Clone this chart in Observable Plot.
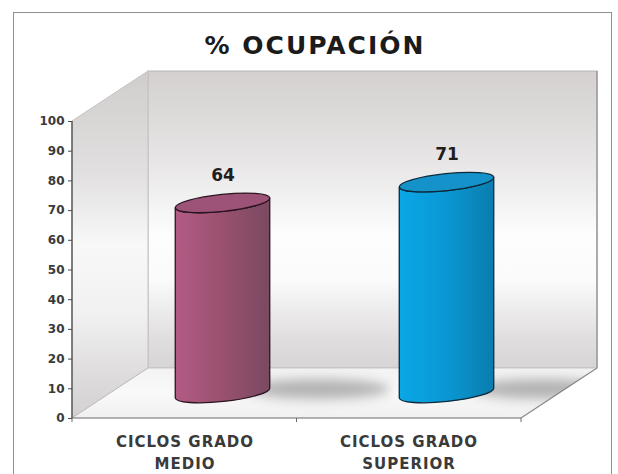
<!DOCTYPE html>
<html>
<head>
<meta charset="utf-8">
<script src="https://cdn.jsdelivr.net/npm/d3@7"></script>
<script src="https://cdn.jsdelivr.net/npm/@observablehq/plot@0.6"></script>
<style>
html, body { margin: 0; padding: 0; background: #fff; width: 618px; height: 474px; overflow: hidden; }
#wrap { position: relative; width: 618px; height: 474px; }
#border { position: absolute; left: 13px; top: 12px; width: 599px; height: 490px; border: 1px solid #8f8f8f; box-sizing: border-box; pointer-events: none; }
#title { height: 62px; box-sizing: border-box; padding-top: 31px; padding-left: 12px; line-height: 30px; text-align: center;
  font-family: "DejaVu Sans", sans-serif; font-weight: bold; font-size: 25px; letter-spacing: 2px; color: #1b1b1b; white-space: nowrap; }
#chart svg { display: block; overflow: visible; }
#chart g[aria-label="y-axis tick label"] text { fill: #3a3a3a; font-weight: bold; }
#chart g[aria-label="y-axis tick"] path { stroke: #4a4a4a; }
#chart g[aria-label="x-axis tick label"] text { fill: #3a3a3a; font-weight: bold; letter-spacing: 1px; }
</style>
</head>
<body>
<div id="wrap">
  <div id="title">% OCUPACIÓN</div>
  <div id="chart"></div>
  <div id="border"></div>
</div>
<script>
// ---- data ----
const categories = ["CICLOS GRADO MEDIO", "CICLOS GRADO SUPERIOR"];
const tickLabels = ["CICLOS GRADO\nMEDIO", "CICLOS GRADO\nSUPERIOR"];
const values = [64, 71];
const yTicks = [0, 10, 20, 30, 40, 50, 60, 70, 80, 90, 100];

// ---- styles ----
const bodyColors = [["#b35b84", "#99516f", "#7a4962"], ["#0ba7e7", "#0a97d4", "#0a7dad"]];
const topColors = ["#9d5277", "#1692cb"];
const strokeColors = ["#2a1520", "#0c2a3a"];

const data = categories.map((c, i) => ({cat: c, value: values[i]}));

const DX = 76, DY = -50;   // 3D depth offset

function walls(index, scales, vals, dims) {
  const {width, marginLeft, marginRight} = dims;
  const x0 = marginLeft, x1 = width - marginRight;
  const yTop = scales.y(100), yBot = scales.y(0);
  const g = d3.create("svg:g");
  const defs = g.append("defs");
  const wg = defs.append("linearGradient").attr("id", "wallGrad").attr("gradientUnits", "userSpaceOnUse")
    .attr("x1", 0).attr("x2", 0).attr("y1", yTop + DY).attr("y2", yBot + DY);
  [[0, "#d3d0cf"], [0.3, "#e7e5e5"], [0.55, "#fdfdfd"], [0.7, "#fbfbfb"], [0.9, "#e0dede"], [1, "#d6d4d4"]]
    .forEach(([o, c]) => wg.append("stop").attr("offset", o).attr("stop-color", c));
  const sg = defs.append("linearGradient").attr("id", "sideGrad").attr("gradientUnits", "userSpaceOnUse")
    .attr("x1", 0).attr("x2", 0).attr("y1", yTop + DY).attr("y2", yBot);
  [[0, "#d0cdcc"], [0.3, "#e2e0e0"], [0.5, "#f8f8f8"], [0.7, "#f2f1f1"], [0.9, "#dbd9d9"], [1, "#d3d1d1"]]
    .forEach(([o, c]) => sg.append("stop").attr("offset", o).attr("stop-color", c));
  const fg = defs.append("linearGradient").attr("id", "floorGrad").attr("gradientUnits", "userSpaceOnUse")
    .attr("x1", 0).attr("x2", 0).attr("y1", yBot + DY).attr("y2", yBot);
  [[0, "#f4f3f3"], [0.5, "#f9f9f9"], [1, "#f1f0f0"]]
    .forEach(([o, c]) => fg.append("stop").attr("offset", o).attr("stop-color", c));

  // back wall
  g.append("rect").attr("x", x0 + DX).attr("y", yTop + DY).attr("width", x1 - x0).attr("height", yBot - yTop)
    .attr("fill", "url(#wallGrad)").attr("stroke", "#b9b7b7").attr("stroke-width", 1);
  g.append("line").attr("x1", x1 + DX).attr("x2", x1 + DX).attr("y1", yTop + DY).attr("y2", yBot + DY)
    .attr("stroke", "#9c9a9a").attr("stroke-width", 1.5);
  // left wall
  g.append("path").attr("d", `M${x0},${yTop}L${x0 + DX},${yTop + DY}L${x0 + DX},${yBot + DY}L${x0},${yBot}Z`)
    .attr("fill", "url(#sideGrad)").attr("stroke", "#c4c2c2").attr("stroke-width", 1);
  // floor
  g.append("path").attr("d", `M${x0},${yBot}L${x0 + DX},${yBot + DY}L${x1 + DX},${yBot + DY}L${x1},${yBot}Z`)
    .attr("fill", "url(#floorGrad)").attr("stroke", "none");
  g.append("line").attr("x1", x0 + DX).attr("x2", x1 + DX).attr("y1", yBot + DY).attr("y2", yBot + DY)
    .attr("stroke", "#c8c6c6");
  g.append("line").attr("x1", x0).attr("x2", x0 + DX).attr("y1", yBot).attr("y2", yBot + DY)
    .attr("stroke", "#bdbbbb");
  g.append("line").attr("x1", x1).attr("x2", x1 + DX).attr("y1", yBot).attr("y2", yBot + DY)
    .attr("stroke", "#8a8888").attr("stroke-width", 1.2);
  return g.node();
}

function cylinders(index, scales, vals, dims) {
  const {width, marginLeft, marginRight} = dims;
  const x0 = marginLeft, x1 = width - marginRight;
  const yBot0 = scales.y(0);
  const bw = scales.x.bandwidth ? scales.x.bandwidth() : 95;
  const g = d3.create("svg:g");
  const defs = g.append("defs");
  defs.append("filter").attr("id", "shBlur").attr("x", "-50%").attr("y", "-200%").attr("width", "200%").attr("height", "500%")
    .append("feGaussianBlur").attr("stdDeviation", 6);
  defs.append("clipPath").attr("id", "floorClip").append("path")
    .attr("d", `M${x0},${yBot0}L${x0 + DX},${yBot0 + DY}L${x1 + DX},${yBot0 + DY}L${x1},${yBot0}Z`);
  const sh = g.append("g").attr("clip-path", "url(#floorClip)");
  const rot = -6, ry = 8.5;
  data.forEach((d, i) => {
    const rx = bw / 2;
    const cx = scales.x(d.cat) + bw / 2 + DX / 2;
    const yt = scales.y(d.value) + DY / 2;
    const yb = scales.y(0) + DY / 2;
    const s = rx * Math.sin(-rot * Math.PI / 180);
    const c = rx * Math.cos(rot * Math.PI / 180);
    // shadow on floor
    sh.append("ellipse").attr("cx", cx + rx + 48).attr("cy", yb - 4).attr("rx", 72).attr("ry", 10)
      .attr("fill", "#6f6d6d").attr("opacity", 0.5).attr("filter", "url(#shBlur)");
    const gr = defs.append("linearGradient").attr("id", "cyl" + i).attr("x1", 0).attr("x2", 1).attr("y1", 0).attr("y2", 0);
    bodyColors[i].forEach((col, k) => gr.append("stop").attr("offset", k / 2).attr("stop-color", col));
    const tg = defs.append("linearGradient").attr("id", "top" + i).attr("x1", 0).attr("x2", 1).attr("y1", 0).attr("y2", 0);
    tg.append("stop").attr("offset", 0).attr("stop-color", bodyColors[i][0]);
    tg.append("stop").attr("offset", 1).attr("stop-color", topColors[i]);
    const body = `M${cx - c},${yt + s}L${cx - c},${yb + s}A${rx},${ry} ${rot} 0 0 ${cx + c},${yb - s}L${cx + c},${yt - s}A${rx},${ry} ${rot} 0 1 ${cx - c},${yt + s}Z`;
    g.append("path").attr("d", body).attr("fill", `url(#cyl${i})`).attr("stroke", strokeColors[i]).attr("stroke-width", 1.3)
      .attr("stroke-linejoin", "round");
    g.append("ellipse").attr("cx", 0).attr("cy", 0).attr("rx", rx).attr("ry", ry)
      .attr("transform", `translate(${cx},${yt}) rotate(${rot})`)
      .attr("fill", topColors[i]).attr("stroke", strokeColors[i]).attr("stroke-width", 1.3);
  });
  return g.node();
}

function axisLines(index, scales, vals, dims) {
  const {width, marginLeft, marginRight} = dims;
  const x0 = marginLeft, x1 = width - marginRight;
  const yTop = scales.y(100), yBot = scales.y(0);
  const g = d3.create("svg:g");
  g.append("line").attr("x1", x0).attr("x2", x0).attr("y1", yTop).attr("y2", yBot).attr("stroke", "#4a4a4a").attr("stroke-width", 1.3);
  g.append("line").attr("x1", x0).attr("x2", x1).attr("y1", yBot).attr("y2", yBot).attr("stroke", "#6a6a6a").attr("stroke-width", 1.2);
  const n = categories.length;
  for (let k = 0; k <= n; k++) {
    const x = x0 + k * (x1 - x0) / n;
    g.append("line").attr("x1", x).attr("x2", x).attr("y1", yBot).attr("y2", yBot + 4).attr("stroke", "#6a6a6a");
  }
  return g.node();
}

const plot = Plot.plot({
  width: 618,
  height: 412,
  marginTop: 59,
  marginBottom: 56,
  marginLeft: 72,
  marginRight: 97,
  style: {fontFamily: "DejaVu Sans, sans-serif", background: "transparent", overflow: "visible"},
  x: {type: "band", domain: categories, paddingInner: 0.577, paddingOuter: 0.2885},
  y: {domain: [0, 100]},
  marks: [
    walls,
    cylinders,
    Plot.axisY({ticks: yTicks, tickSize: 4, tickPadding: 4, fontSize: 12, fontWeight: "bold", label: null}),
    Plot.axisX({tickSize: 0, tickPadding: 13, fontSize: 15, fontWeight: "bold", lineHeight: 1.45, label: null,
      tickFormat: d => tickLabels[categories.indexOf(d)]}),
    axisLines,
    Plot.text(data, {x: "cat", y: "value", text: d => String(d.value), dx: DX / 2, dy: -53,
      fontSize: 17, fontWeight: "bold", fill: "#1e1e1e"})
  ]
});
document.getElementById("chart").appendChild(plot);
</script>
</body>
</html>
